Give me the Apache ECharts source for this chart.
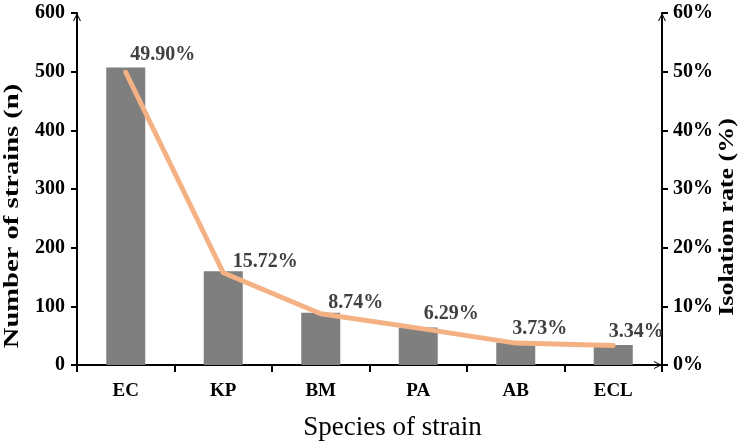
<!DOCTYPE html>
<html>
<head>
<meta charset="utf-8">
<script src="https://cdn.jsdelivr.net/npm/echarts@6/dist/echarts.min.js"></script>
<style>html,body{margin:0;padding:0;background:#fff}#c{width:750px;height:448px}</style>
</head>
<body>
<div id="c"></div>
<script>
var categories = ['EC', 'KP', 'BM', 'PA', 'AB', 'ECL'];
var strainCounts = [507, 160, 89, 64, 38, 34];
var isolationRates = [49.90, 15.72, 8.74, 6.29, 3.73, 3.34];
var leftTicks = [0, 100, 200, 300, 400, 500, 600];
var rightTicks = [0, 10, 20, 30, 40, 50, 60];
var xAxisTitle = 'Species of strain';
var leftAxisTitle = 'Number of strains (n)';
var rightAxisTitle = 'Isolation rate (%)';

// label placement (style only)
var labelOffsets = [[37, -2], [42, 5], [35, 5], [33, 1], [24, 1], [23, 2]];

var FONT = "'Liberation Serif', 'Times New Roman', serif";
var arrow = 'path://M0,10 L5,0 L10,10 L8.6,10 L5,2.6 L1.4,10 Z';

var chart = echarts.init(document.getElementById('c'), null, {renderer: 'canvas'});

var lineData = isolationRates.map(function (v, i) {
  return { value: v, label: { offset: labelOffsets[i] } };
});

chart.setOption({
  animation: false,
  backgroundColor: '#ffffff',
  grid: { left: 77, right: 88, top: 13, bottom: 83, containLabel: false, outerBoundsMode: 'none' },
  xAxis: {
    type: 'category',
    data: categories,
    boundaryGap: true,
    name: xAxisTitle,
    nameLocation: 'middle',
    nameGap: 49,
    nameTextStyle: { fontFamily: FONT, fontSize: 27, color: '#000', fontWeight: 'normal', padding: [0, 0, 0, 46] },
    axisLine: { show: true, lineStyle: { color: '#000', width: 2 }, symbol: ['none', arrow], symbolSize: [8, 10], symbolOffset: [0, -4] },
    axisTick: { show: true, inside: false, length: 7, lineStyle: { color: '#000', width: 2 } },
    axisLabel: { fontFamily: FONT, fontSize: 19, fontWeight: 'bold', color: '#000', margin: 17 },
    splitLine: { show: false }
  },
  yAxis: [
    {
      type: 'value',
      min: leftTicks[0],
      max: leftTicks[leftTicks.length - 1],
      interval: 100,
      axisLine: { show: true, lineStyle: { color: '#000', width: 2 }, symbol: ['none', arrow], symbolSize: [8, 10], symbolOffset: [0, -4] },
      axisTick: { show: true, inside: false, length: 6, lineStyle: { color: '#000', width: 2 } },
      axisLabel: { fontFamily: FONT, fontSize: 20, fontWeight: 'bold', color: '#000', margin: 12 },
      splitLine: { show: false }
    },
    {
      type: 'value',
      position: 'right',
      min: rightTicks[0],
      max: rightTicks[rightTicks.length - 1],
      interval: 10,
      axisLine: { show: true, lineStyle: { color: '#000', width: 2 }, symbol: ['none', arrow], symbolSize: [8, 10], symbolOffset: [0, -4] },
      axisTick: { show: true, inside: false, length: 6, lineStyle: { color: '#000', width: 2 } },
      axisLabel: { fontFamily: FONT, fontSize: 20, fontWeight: 'bold', color: '#000', margin: 11, formatter: '{value}%' },
      splitLine: { show: false }
    }
  ],
  graphic: [
    {
      type: 'text', x: 12, y: 216, rotation: Math.PI / 2, scaleX: 1.3, scaleY: 1,
      style: { text: leftAxisTitle, fontFamily: FONT, fontSize: 22, fontWeight: 'bold', fill: '#000', align: 'center', verticalAlign: 'middle' }
    },
    {
      type: 'text', x: 727, y: 217, rotation: Math.PI / 2, scaleX: 1.18, scaleY: 1,
      style: { text: rightAxisTitle, fontFamily: FONT, fontSize: 22, fontWeight: 'bold', fill: '#000', align: 'center', verticalAlign: 'middle' }
    }
  ],
  series: [
    {
      type: 'bar',
      data: strainCounts,
      yAxisIndex: 0,
      barWidth: 39,
      itemStyle: { color: '#7f7f7f' },
      z: 2
    },
    {
      type: 'line',
      data: lineData,
      yAxisIndex: 1,
      symbol: 'circle',
      symbolSize: 1,
      showSymbol: true,
      itemStyle: { color: '#f4b183' },
      lineStyle: { color: '#f4b183', width: 5, cap: 'round', join: 'round' },
      label: {
        show: true,
        position: 'top',
        fontFamily: FONT,
        fontSize: 20,
        fontWeight: 'bold',
        color: '#404040',
        formatter: function (p) { return p.value.toFixed(2) + '%'; }
      },
      z: 3
    }
  ]
});
</script>
</body>
</html>
